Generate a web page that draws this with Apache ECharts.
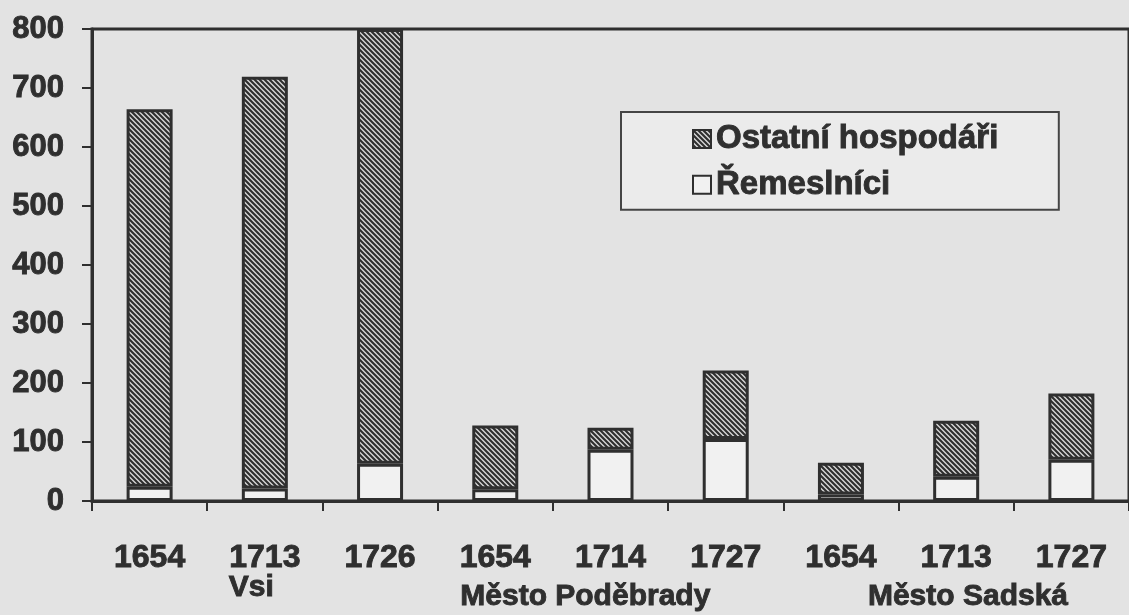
<!DOCTYPE html>
<html>
<head>
<meta charset="utf-8">
<script src="https://cdn.jsdelivr.net/npm/echarts@6/dist/echarts.min.js"></script>
<style>
html,body{margin:0;padding:0;background:#e3e3e3;}
#c{width:1129px;height:615px;}
</style>
</head>
<body>
<div id="c"></div>
<script>
const categories = ['1654','1713','1726','1654','1714','1727','1654','1713','1727'];
const remeslnici = [24, 21, 63, 20, 87, 105, 11, 41, 70];
const ostatni = [640, 698, 737, 108, 37, 116, 54, 95, 112];
const groupLabels = ['Vsi', 'Město Poděbrady', 'Město Sadská'];
const groupAnchor = [1, 3, 6];
const groupOffset = [-36, -35, 27];
const groupBaselineY = [588, 597];
const yTicks = [0, 100, 200, 300, 400, 500, 600, 700, 800];

const INK = '#2f2f2f';
const FONT = '"Liberation Sans", Arial, sans-serif';
const BOLDEN = {textBorderColor: INK, textBorderWidth: 0.9};

function hatch() {
  const s = 5;
  const c = document.createElement('canvas');
  c.width = s; c.height = s;
  const g = c.getContext('2d');
  g.fillStyle = '#d6d6d6';
  g.fillRect(0, 0, s, s);
  g.strokeStyle = '#2e2e2e';
  g.lineWidth = 2.1;
  g.beginPath();
  g.moveTo(-1, -1); g.lineTo(s + 1, s + 1);
  g.moveTo(-1, s - 1); g.lineTo(1, s + 1);
  g.moveTo(s - 1, -1); g.lineTo(s + 1, 1);
  g.stroke();
  return c;
}

const chart = echarts.init(document.getElementById('c'), null, {renderer: 'canvas'});
const option = {
  backgroundColor: '#e3e3e3',
  animation: false,
  grid: {
    left: 92, top: 29, width: 1045, height: 472,
    show: true, borderColor: INK, borderWidth: 3, backgroundColor: 'transparent'
  },
  legend: {
    left: 621, top: 112, orient: 'vertical',
    data: ['Ostatní hospodáři', 'Řemeslníci'],
    backgroundColor: '#ebebeb', borderColor: '#454545', borderWidth: 2,
    padding: [10, 60, 8, 71],
    itemWidth: 18, itemHeight: 18, itemGap: 12, icon: 'rect',
    itemStyle: {borderColor: INK, borderWidth: 2},
    textStyle: Object.assign({fontFamily: FONT, fontWeight: 'bold', fontSize: 33, color: INK, lineHeight: 33}, BOLDEN)
  },
  xAxis: {
    type: 'category', data: categories,
    axisLine: {lineStyle: {color: INK, width: 3}},
    axisTick: {show: true, inside: false, length: 10, interval: 0, lineStyle: {color: INK, width: 2}},
    axisLabel: Object.assign({interval: 0, margin: 41, fontFamily: FONT, fontWeight: 'bold', fontSize: 32, lineHeight: 32, color: INK}, BOLDEN),
    splitLine: {show: false}
  },
  yAxis: {
    type: 'value', min: yTicks[0], max: yTicks[yTicks.length - 1], interval: yTicks[1] - yTicks[0],
    axisLine: {show: true, lineStyle: {color: INK, width: 3}},
    axisTick: {show: true, inside: false, length: 10, lineStyle: {color: INK, width: 2}},
    axisLabel: Object.assign({margin: 28, fontFamily: FONT, fontWeight: 'bold', fontSize: 31, color: INK}, BOLDEN),
    splitLine: {show: false}
  },
  series: [
    {
      name: 'Řemeslníci', type: 'bar', stack: 'a', data: remeslnici, barWidth: 46,
      itemStyle: {color: '#f1f1f1', borderColor: INK, borderWidth: 3}
    },
    {
      name: 'Ostatní hospodáři', type: 'bar', stack: 'a', data: ostatni, barWidth: 46,
      itemStyle: {color: {image: hatch(), repeat: 'repeat'}, borderColor: INK, borderWidth: 3}
    }
  ]
};
chart.setOption(option);

const gfx = groupLabels.map((t, i) => {
  const px = chart.convertToPixel({xAxisIndex: 0}, groupAnchor[i]);
  return {
    type: 'text', x: px + groupOffset[i], y: i === 0 ? groupBaselineY[0] : groupBaselineY[1],
    style: {text: t, fontFamily: FONT, fontWeight: 'bold', fontSize: 30, fill: INK, stroke: INK, lineWidth: 0.9, align: 'left', verticalAlign: 'middle'}
  };
});
chart.setOption({graphic: gfx});
</script>
</body>
</html>
